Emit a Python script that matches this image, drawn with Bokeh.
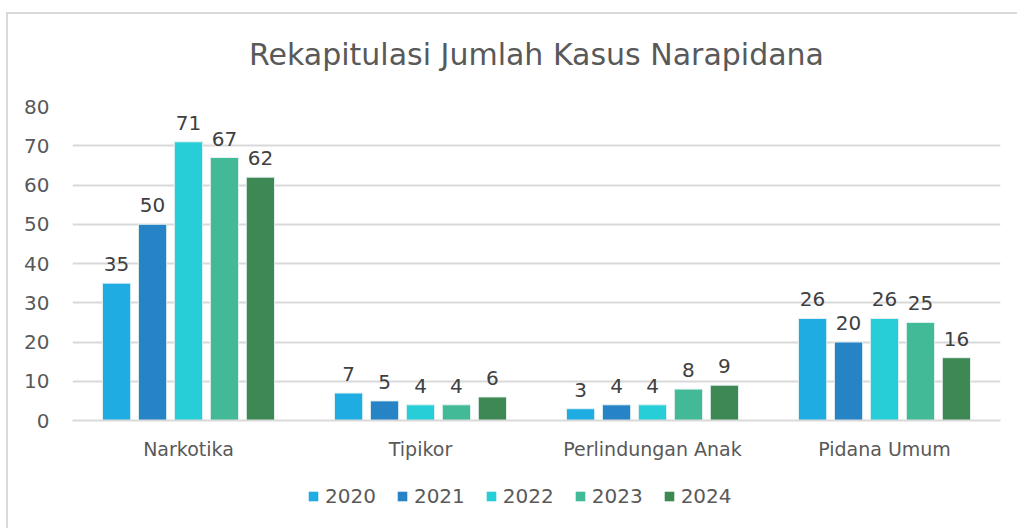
from bokeh.plotting import figure
from bokeh.models import ColumnDataSource, FactorRange, Legend, LegendItem, LabelSet, Range1d
from bokeh.layouts import column
from bokeh.core.properties import value
from bokeh.transform import dodge
from bokeh.embed import file_html
from bokeh.resources import INLINE

categories = ["Narkotika", "Tipikor", "Perlindungan Anak", "Pidana Umum"]
years = ["2020", "2021", "2022", "2023", "2024"]
v2020 = [35, 7, 3, 26]
v2021 = [50, 5, 4, 20]
v2022 = [71, 4, 4, 26]
v2023 = [67, 4, 8, 25]
v2024 = [62, 6, 9, 16]
series = [v2020, v2021, v2022, v2023, v2024]
colors = ["#1EACE3", "#2683C6", "#27CED7", "#42BA97", "#3E8853"]

FONT = "DejaVu Sans"
TXT = "#595959"

data = {"cat": categories}
for y, s in zip(years, series):
    data["y" + y] = s
    data["l" + y] = [str(v) for v in s]
src = ColumnDataSource(data)

p = figure(x_range=FactorRange(*categories), y_range=Range1d(0, 80),
           width=1009, height=456, output_backend="svg", toolbar_location=None,
           min_border_left=64, min_border_right=17, min_border_top=92, min_border_bottom=50)

p.title.text = "Rekapitulasi Jumlah Kasus Narapidana\n "
p.title.align = "center"
p.title.offset = -38
p.title.text_font = FONT
p.title.text_font_size = "30px"
p.title.text_font_style = "normal"
p.title.text_color = TXT
p.title.text_line_height = 0.85

offsets = [-0.31, -0.155, 0.0, 0.155, 0.31]
for y, off, c in zip(years, offsets, colors):
    p.vbar(x=dodge("cat", off, range=p.x_range), top="y" + y, width=0.122, source=src,
           fill_color=c, line_color="#e6f2f2", line_width=1)
    lbl = LabelSet(x=dodge("cat", off, range=p.x_range), y="y" + y, text="l" + y, source=src,
                   text_align="center", text_baseline="bottom", y_offset=12,
                   text_font=value(FONT), text_font_size="20px", text_color="#404040")
    p.add_layout(lbl)

p.outline_line_color = None
p.xgrid.grid_line_color = None
p.ygrid.grid_line_color = "#d9d9d9"
p.ygrid.grid_line_width = 2
p.yaxis.ticker = [0, 10, 20, 30, 40, 50, 60, 70, 80]
p.yaxis.axis_line_color = None
p.yaxis.major_tick_line_color = None
p.yaxis.minor_tick_line_color = None
p.yaxis.major_label_text_font = FONT
p.yaxis.major_label_text_font_size = "20px"
p.yaxis.major_label_text_color = TXT
p.yaxis.major_label_standoff = 17
p.xaxis.axis_line_color = "#d9d9d9"
p.xaxis.axis_line_width = 2
p.xaxis.major_tick_line_color = None
p.xaxis.minor_tick_line_color = None
p.xaxis.major_label_text_font = FONT
p.xaxis.major_label_text_font_size = "19px"
p.xaxis.major_label_text_color = TXT
p.xaxis.major_label_standoff = 11
p.x_range.range_padding = 0
p.x_range.group_padding = 0
p.background_fill_color = "white"
p.border_fill_color = "white"

# legend strip (its bars lie outside the visible y range; only the legend shows)
lf = figure(x_range=FactorRange(*categories), y_range=Range1d(1000, 1001),
            width=1009, height=58, output_backend="svg", toolbar_location=None,
            min_border_left=18, min_border_right=0, min_border_top=0, min_border_bottom=0)
items = []
for y, off, c in zip(years, offsets, colors):
    r = lf.vbar(x=dodge("cat", off, range=lf.x_range), top="y" + y, width=0.0001, source=src,
                fill_color=c, line_color=None)
    items.append(LegendItem(label=y, renderers=[r]))
legend = Legend(items=items, orientation="horizontal", location=(235, 20),
                label_text_font=FONT, label_text_font_size="20px", label_text_color=TXT,
                glyph_width=12, glyph_height=12, spacing=20, label_standoff=6,
                border_line_color=None, background_fill_alpha=0, padding=0, margin=0)
lf.add_layout(legend)
lf.axis.visible = False
lf.grid.visible = False
lf.outline_line_color = None
lf.background_fill_color = "white"
lf.border_fill_color = "white"

layout = column(p, lf, spacing=0)
layout.styles = {"margin-left": "6px", "margin-top": "12px",
                 "border-left": "2px solid #d9d9d9", "border-top": "2px solid #d9d9d9"}

open("out.html", "w").write(file_html(layout, INLINE))
